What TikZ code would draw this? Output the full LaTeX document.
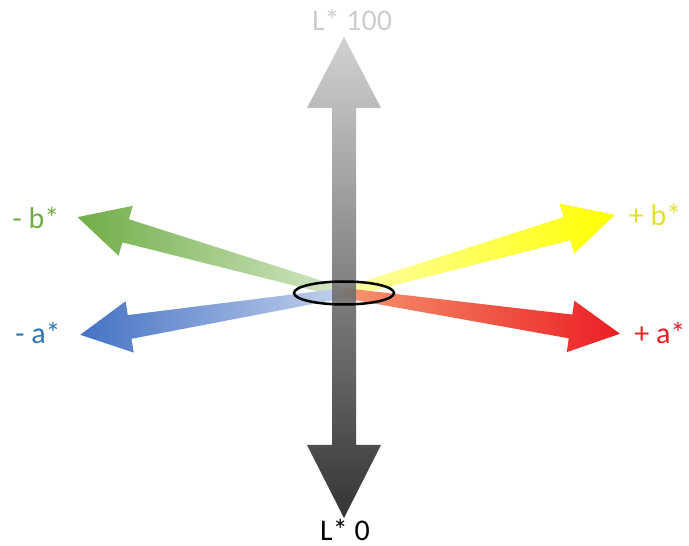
\documentclass[tikz,border=0pt]{standalone}
\usepackage{fontspec}
\setmainfont{Carlito}
\usetikzlibrary{shapes.geometric}
\definecolor{bgreen}{RGB}{112,173,71}
\definecolor{bgreenlight}{RGB}{214,232,200}
\definecolor{ablue}{RGB}{68,114,196}
\definecolor{abluelight}{RGB}{196,210,236}
\definecolor{ayellow}{RGB}{255,255,0}
\definecolor{ayellowlight}{RGB}{255,255,170}
\definecolor{ared}{RGB}{235,30,35}
\definecolor{aredlight}{RGB}{245,150,110}
\definecolor{lightgrey}{RGB}{205,205,205}
\definecolor{darkgrey}{RGB}{30,30,30}
\definecolor{bluelab}{RGB}{46,117,182}
\definecolor{yellowlab}{RGB}{225,225,40}

\begin{document}
\begin{tikzpicture}[x=1pt,y=1pt,
		axlab/.style={font=\fontsize{30}{30}\selectfont, inner sep=0pt},
		ring/.style={draw=black, line width=2.5pt, ellipse, minimum width=100pt,
			minimum height=23pt, inner sep=0pt}
	]
	\useasboundingbox (0,0) rectangle (689,546);
	\coordinate (o) at (344,253);
	% colour axes a* and b* (shading runs left to right on the page)
	\foreach \ang/\len/\cleft/\cright in {164.1/277/bgreen/bgreenlight,
			189.0/267/ablue/abluelight,
			16.1/282/ayellowlight/ayellow,
			-8.4/279/aredlight/ared}{
		\begin{scope}[shift={(o)}, rotate=\ang]
			\shade[left color=\cleft, right color=\cright]
				(0,-5) -- (\len-50,-12) -- (\len-50,-26) -- (\len,0)
				-- (\len-50,26) -- (\len-50,12) -- (0,5) -- cycle;
		\end{scope}
	}
	% lightness axis L*
	\shade[top color=lightgrey, bottom color=darkgrey, opacity=0.9]
		(344,509) -- (381,438) -- (356,438) -- (356,101) -- (381,101)
		-- (344,28) -- (307,101) -- (332,101) -- (332,438) -- (307,438) -- cycle;
	\node[ring] (centre) at (o) {};
	\node[axlab, text=lightgrey] (lhi) at (352,526) {L* 100};
	\node[axlab, text=black] (llo) at (345,16) {L* 0};
	\node[axlab, text=bgreen] (bneg) at (36,328) {- b*};
	\node[axlab, text=bluelab] (aneg) at (38,213) {- a*};
	\node[axlab, text=yellowlab] (bpos) at (655,331) {+ b*};
	\node[axlab, text=ared] (apos) at (660,213) {+ a*};
\end{tikzpicture}
\end{document}
